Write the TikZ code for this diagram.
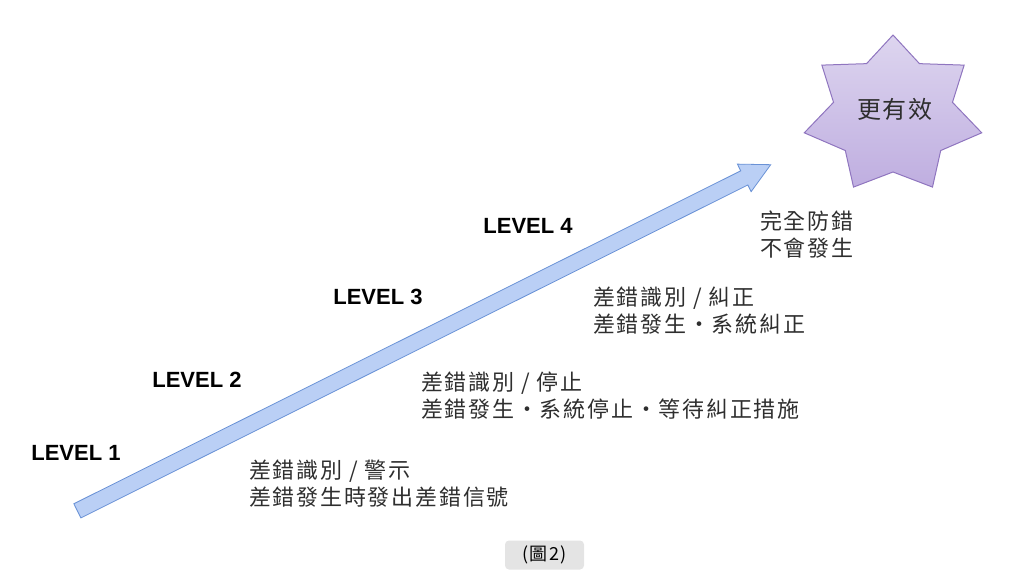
\documentclass[tikz,border=0pt]{standalone}
\usepackage{fontspec}
\setmainfont{Liberation Sans}
\newfontfamily\cjk[LetterSpace=8]{Noto Sans CJK TC}
\usepackage{tikz}
\usetikzlibrary{shapes.arrows}
\definecolor{arrowline}{HTML}{6A92D6}
\definecolor{arrowfill}{HTML}{BACFF5}
\definecolor{startop}{HTML}{DDD5EF}
\definecolor{starbot}{HTML}{BFAEE0}
\definecolor{starline}{HTML}{8F75BF}
\definecolor{notegray}{HTML}{2E2E2E}
\definecolor{capgray}{HTML}{E4E4E4}

\begin{document}
\begin{tikzpicture}[x=1pt,y=-1pt,
    levellabel/.style={inner sep=0,font=\fontsize{22}{26}\selectfont\bfseries},
    note/.style={inner sep=0,anchor=west,align=left,text=notegray,font=\cjk\fontsize{22}{27}\selectfont}]
    \useasboundingbox (0,0) rectangle (1024,576);
    \node[single arrow,draw=arrowline,line width=0.8pt,fill=arrowfill,
      rotate=26.53,anchor=tail,inner xsep=0,inner ysep=7.5pt,minimum height=775,
      single arrow head extend=7.5pt,single arrow tip angle=55] (arrow) at (77,511) {};
    \draw[starline,line width=1pt,top color=startop,bottom color=starbot] (893,35)
      \foreach \i in {0,...,6}{
        -- ({893+61*cos(90+\i*360/7+360/14)},{115-57*sin(90+\i*360/7+360/14)})
        -- ({893+91*cos(90+(\i+1)*360/7)},{115-80*sin(90+(\i+1)*360/7)})
      } -- cycle;
    \node[inner sep=0,text=notegray,font=\cjk\fontsize{24}{24}\selectfont] (goal) at (895,109) {更有效};
    \foreach \n/\x/\y in {1/76/453,2/197/380,3/378/297,4/528/226}{
      \node[levellabel] (level\n) at (\x,\y) {LEVEL \n};
    }
    \node[note] (note1) at (249,483.5) {差錯識別 / 警示\\差錯發生時發出差錯信號};
    \node[note] (note2) at (421,396) {差錯識別 / 停止\\差錯發生・系統停止・等待糾正措施};
    \node[note] (note3) at (593,310.5) {差錯識別 / 糾正\\差錯發生・系統糾正};
    \node[note] (note4) at (760,235) {完全防錯\\不會發生};
    \node[fill=capgray,rounded corners=4pt,minimum width=79,minimum height=29,inner sep=0,
      font=\cjk\fontsize{18}{18}\selectfont] (caption) at (544.5,555) {(圖2)};
\end{tikzpicture}
\end{document}
